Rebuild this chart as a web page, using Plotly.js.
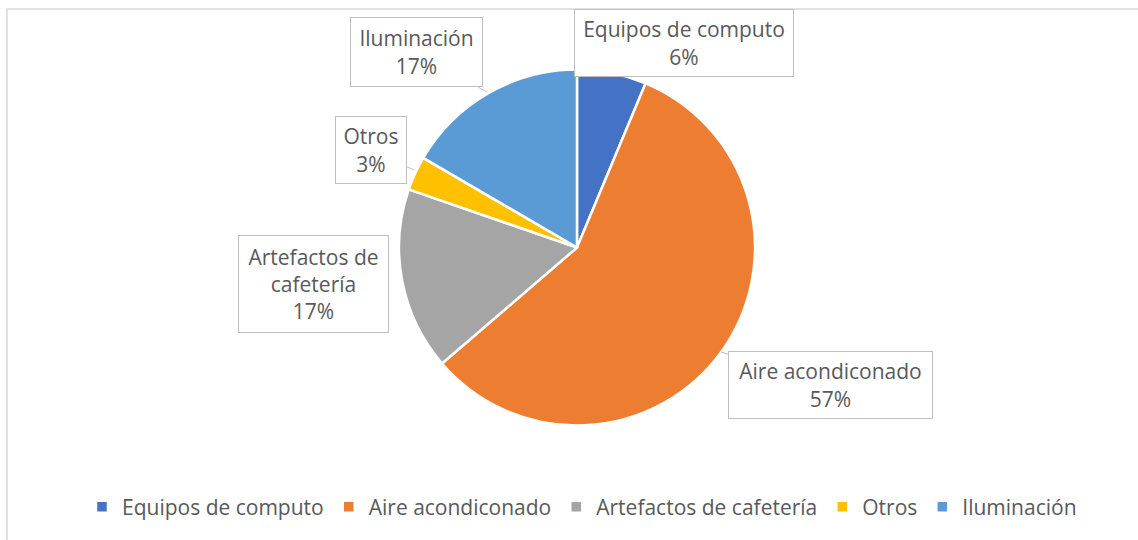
<!DOCTYPE html>
<html>
<head>
<meta charset="utf-8">
<script src="https://cdn.plot.ly/plotly-3.0.1.min.js"></script>
<style>html,body{margin:0;padding:0;background:#fff;}#chart{width:1138px;height:540px;}</style>
</head>
<body>
<div id="chart"></div>
<script>
// ---- data ----
const categories = ["Equipos de computo", "Aire acondiconado", "Artefactos de cafetería", "Otros", "Iluminación"];
const values = [6.3, 57.4, 16.6, 3.1, 16.6];
const colors = ["#4472C4", "#ED7D31", "#A5A5A5", "#FFC000", "#5B9BD5"];
// label text lines (category name split as in the chart)
const labelNames = ["Equipos de computo", "Aire acondiconado", "Artefactos de<br>cafetería", "Otros", "Iluminación"];

// ---- layout helpers (pixel -> paper, margins are 0) ----
const W = 1138, H = 540;
const px = x => x / W;
const py = y => 1 - y / H;

const total = values.reduce((a, b) => a + b, 0);
const pct = values.map(v => Math.round(v / total * 100) + "%");

// label boxes: [centerX, centerY, width, height, arrowHeadX, arrowHeadY]
const boxes = [
  [684, 43, 218, 66, null, null],
  [830.5, 385, 203, 66, 721, 352],
  [313.5, 284, 149, 96, null, null],
  [371, 150, 70, 66, 414, 170],
  [416.5, 52, 131, 68, 487, 92]
];

const FONT = "Open Sans, Noto Sans, sans-serif";
const TXT = "#595959";
const FS = 21;

const annotations = categories.map((c, i) => {
  const b = boxes[i];
  const a = {
    xref: "paper", yref: "paper",
    text: labelNames[i] + "<br>" + pct[i],
    font: {family: FONT, size: FS, color: TXT},
    bgcolor: "#FFFFFF", bordercolor: "#BFBFBF", borderwidth: 1, borderpad: 0,
    width: b[2], height: b[3], align: "center", valign: "middle"
  };
  if (b[4] !== null) {
    a.x = px(b[4]); a.y = py(b[5]);
    a.showarrow = true; a.arrowhead = 0; a.arrowwidth = 1; a.arrowcolor = "#BFBFBF";
    a.ax = b[0] - b[4]; a.ay = b[1] - b[5];
  } else {
    a.x = px(b[0]); a.y = py(b[1]);
    a.xanchor = "center"; a.yanchor = "middle"; a.showarrow = false;
  }
  return a;
});

const cx = 577, cy = 247.5, r = 178;

const data = [{
  type: "pie",
  labels: categories,
  values: values,
  sort: false,
  direction: "clockwise",
  rotation: 0,
  textinfo: "none",
  hoverinfo: "label+percent",
  marker: {colors: colors, line: {color: "#FFFFFF", width: 2.5}},
  domain: {x: [px(cx - r), px(cx + r)], y: [py(cy + r), py(cy - r)]},
  automargin: false
}];

const layout = {
  width: W, height: H,
  margin: {l: 0, r: 0, t: 0, b: 0},
  paper_bgcolor: "#FFFFFF",
  showlegend: true,
  legend: {
    orientation: "h", x: px(582), xanchor: "center", y: py(507), yanchor: "middle",
    font: {family: FONT, size: FS, color: TXT}, itemwidth: 30, traceorder: "normal"
  },
  annotations: annotations,
  shapes: [
    {type: "line", xref: "paper", yref: "paper", x0: px(7), x1: 1, y0: py(9), y1: py(9), line: {color: "#D9D9D9", width: 1.5}},
    {type: "line", xref: "paper", yref: "paper", x0: px(7), x1: px(7), y0: py(9), y1: 0, line: {color: "#D9D9D9", width: 1.5}}
  ]
};

Plotly.newPlot("chart", data, layout, {displayModeBar: false, staticPlot: true});
</script>
</body>
</html>
